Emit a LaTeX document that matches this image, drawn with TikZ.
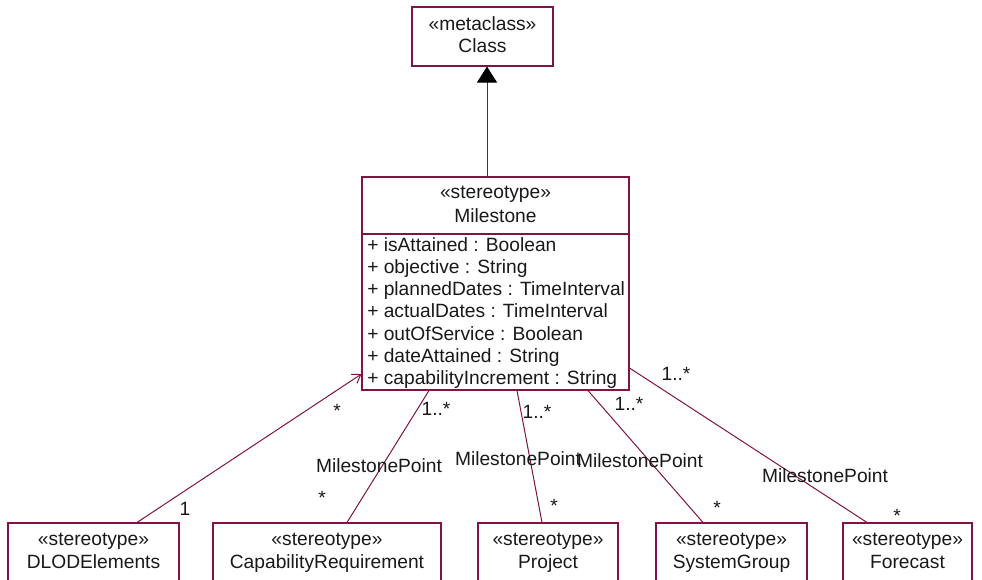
\documentclass[tikz,border=0pt]{standalone}
\usepackage{fontspec}
\setmainfont{Liberation Sans}
\usetikzlibrary{arrows.meta,fit}
\definecolor{umlline}{RGB}{128,20,70}
\definecolor{umltext}{RGB}{25,25,25}
\begin{document}
\begin{tikzpicture}[x=0.75pt,y=-0.75pt,
  box/.style={draw=umlline, line width=0.8pt, inner sep=0pt, fill=white},
  txt/.style={font=\fontsize{14.4}{17}\selectfont, text=umltext, inner sep=0pt,
              text height=10.5pt, text depth=3pt},
  attr/.style={txt, anchor=west},
  link/.style={draw=umlline, line width=0.75pt},
  mult/.style={txt}]
\useasboundingbox (0,0) rectangle (982,579);
\fill[white] (0,0) rectangle (982,579);

% metaclass
\node[box, fit={(412,7) (553,66)}] (cls) {};
\node[txt] (clsS) at (482.5,25) {«metaclass»};
\node[txt] (clsN) at (482.5,47) {Class};

% Milestone stereotype with its attributes
\node[box, fit={(362,177) (629,390)}] (ms) {};
\draw[umlline, line width=0.8pt] (ms.west |- 0,234) -- (ms.east |- 0,234);
\node[txt] (msS) at (495.5,193) {«stereotype»};
\node[txt] (msN) at (495.5,217) {Milestone};
\node[attr] (a1) at (367,246) {+ isAttained : Boolean};
\node[attr] (a2) at (367,268) {+ objective : String};
\node[attr] (a3) at (367,290) {+ plannedDates : TimeInterval};
\node[attr] (a4) at (367,312) {+ actualDates : TimeInterval};
\node[attr] (a5) at (367,335) {+ outOfService : Boolean};
\node[attr] (a6) at (367,357) {+ dateAttained : String};
\node[attr] (a7) at (367,379) {+ capabilityIncrement : String};

% related stereotypes along the bottom
\node[box, fit={(8,523) (179,590)}] (dl) {};
\node[txt] at (93.5,540) {«stereotype»};
\node[txt] at (93.5,563) {DLODElements};
\node[box, fit={(213,523) (441,590)}] (cr) {};
\node[txt] at (327,540) {«stereotype»};
\node[txt] at (327,563) {CapabilityRequirement};
\node[box, fit={(478,523) (618,590)}] (pj) {};
\node[txt] at (548,540) {«stereotype»};
\node[txt] at (548,563) {Project};
\node[box, fit={(656,523) (807,590)}] (sg) {};
\node[txt] at (731.5,540) {«stereotype»};
\node[txt] at (731.5,563) {SystemGroup};
\node[box, fit={(843,523) (972,590)}] (fc) {};
\node[txt] at (907.5,540) {«stereotype»};
\node[txt] at (907.5,563) {Forecast};

% connectors
\draw[link, -{Triangle[width=15pt,length=12pt,black]}] (ms.north -| 487,0) -- (cls.south -| 487,0);
\draw[link, -{Straight Barb[length=6pt,width=8pt]}] (dl.north -| 137,0) -- (ms.west |- 0,374);
\draw[link] (cr.north -| 347,0) -- (ms.south -| 429,0);
\draw[link] (ms.south -| 517,0) -- (pj.north -| 542,0);
\draw[link] (ms.south -| 588,0) -- (sg.north -| 703,0);
\draw[link] (ms.east |- 0,368) -- (fc.north -| 867,0);

% multiplicities and role names
\node[mult] (m1a) at (337,412) {*};
\node[mult] (m1b) at (185,510) {1};
\node[mult] (m2a) at (436,410) {1..*};
\node[mult] (m2b) at (322,499) {*};
\node[txt]  (r2)  at (379,467) {MilestonePoint};
\node[mult] (m3a) at (537,413) {1..*};
\node[mult] (m3b) at (554,507) {*};
\node[txt]  (r3)  at (518,460) {MilestonePoint};
\node[mult] (m4a) at (629,405) {1..*};
\node[mult] (m4b) at (717,509) {*};
\node[txt]  (r4)  at (640,462) {MilestonePoint};
\node[mult] (m5a) at (676,375) {1..*};
\node[mult] (m5b) at (897,517) {*};
\node[txt]  (r5)  at (825,477) {MilestonePoint};
\end{tikzpicture}
\end{document}
